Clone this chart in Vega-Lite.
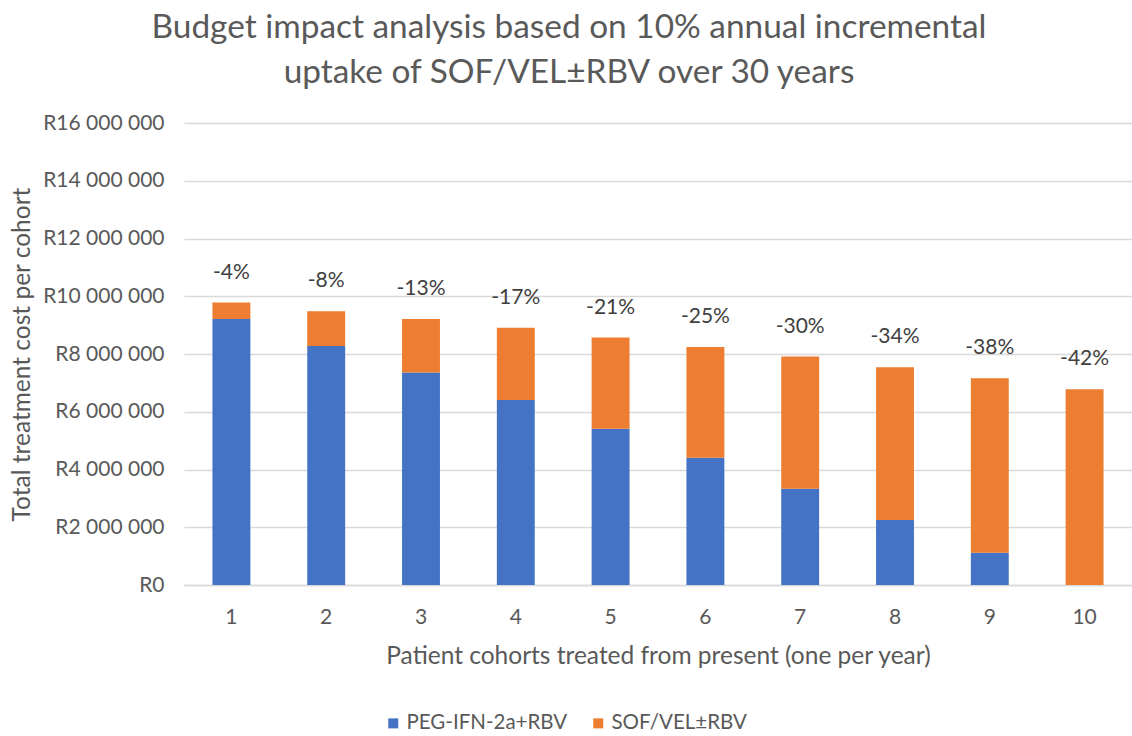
{
  "$schema": "https://vega.github.io/schema/vega-lite/v6.json",
  "width": 948,
  "height": 462,
  "autosize": {"type": "none"},
  "padding": {"left": 184, "top": 123, "right": 0, "bottom": 151},
  "background": "white",
  "config": {
    "view": {"stroke": null},
    "font": "Lato",
    "axis": {"labelFont": "Lato", "titleFont": "Lato"}
  },
  "title": {
    "text": ["Budget impact analysis based on 10% annual incremental", "uptake of SOF/VEL±RBV over 30 years"],
    "font": "Lato",
    "fontSize": 33.4,
    "fontWeight": "normal",
    "color": "#595959",
    "anchor": "middle",
    "frame": "group",
    "dx": -89,
    "lineHeight": 45,
    "offset": 22
  },
  "datasets": {
    "costs": [
      {"cohort": "1", "treatment": "PEG-IFN-2a+RBV", "cost": 9210000, "change": "-4%"},
      {"cohort": "1", "treatment": "SOF/VEL±RBV", "cost": 570000, "change": "-4%"},
      {"cohort": "2", "treatment": "PEG-IFN-2a+RBV", "cost": 8280000, "change": "-8%"},
      {"cohort": "2", "treatment": "SOF/VEL±RBV", "cost": 1200000, "change": "-8%"},
      {"cohort": "3", "treatment": "PEG-IFN-2a+RBV", "cost": 7360000, "change": "-13%"},
      {"cohort": "3", "treatment": "SOF/VEL±RBV", "cost": 1850000, "change": "-13%"},
      {"cohort": "4", "treatment": "PEG-IFN-2a+RBV", "cost": 6410000, "change": "-17%"},
      {"cohort": "4", "treatment": "SOF/VEL±RBV", "cost": 2500000, "change": "-17%"},
      {"cohort": "5", "treatment": "PEG-IFN-2a+RBV", "cost": 5410000, "change": "-21%"},
      {"cohort": "5", "treatment": "SOF/VEL±RBV", "cost": 3160000, "change": "-21%"},
      {"cohort": "6", "treatment": "PEG-IFN-2a+RBV", "cost": 4410000, "change": "-25%"},
      {"cohort": "6", "treatment": "SOF/VEL±RBV", "cost": 3830000, "change": "-25%"},
      {"cohort": "7", "treatment": "PEG-IFN-2a+RBV", "cost": 3330000, "change": "-30%"},
      {"cohort": "7", "treatment": "SOF/VEL±RBV", "cost": 4580000, "change": "-30%"},
      {"cohort": "8", "treatment": "PEG-IFN-2a+RBV", "cost": 2250000, "change": "-34%"},
      {"cohort": "8", "treatment": "SOF/VEL±RBV", "cost": 5290000, "change": "-34%"},
      {"cohort": "9", "treatment": "PEG-IFN-2a+RBV", "cost": 1120000, "change": "-38%"},
      {"cohort": "9", "treatment": "SOF/VEL±RBV", "cost": 6040000, "change": "-38%"},
      {"cohort": "10", "treatment": "PEG-IFN-2a+RBV", "cost": 0, "change": "-42%"},
      {"cohort": "10", "treatment": "SOF/VEL±RBV", "cost": 6780000, "change": "-42%"}
    ]
  },
  "data": {"name": "costs"},
  "encoding": {
    "x": {
      "field": "cohort",
      "type": "ordinal",
      "sort": ["1", "2", "3", "4", "5", "6", "7", "8", "9", "10"],
      "scale": {"paddingInner": 0.6, "paddingOuter": 0.3},
      "axis": {
        "title": "Patient cohorts treated from present (one per year)",
        "titleFontSize": 24.5,
        "titleFontWeight": "normal",
        "titleColor": "#595959",
        "titlePadding": 17,
        "labelAngle": 0,
        "labelFontSize": 21,
        "labelColor": "#595959",
        "labelPadding": 21,
        "ticks": false,
        "domain": true,
        "domainColor": "#d9d9d9",
        "domainWidth": 1.5,
        "grid": false
      }
    }
  },
  "layer": [
    {
      "mark": {"type": "bar"},
      "encoding": {
        "y": {
          "field": "cost",
          "type": "quantitative",
          "aggregate": "sum",
          "stack": "zero",
          "scale": {"domain": [0, 16000000]},
          "axis": {
            "title": "Total treatment cost per cohort",
            "titleFontSize": 24.5,
            "titleFontWeight": "normal",
            "titleColor": "#595959",
            "titleX": -162,
            "titleY": 231,
            "titleAngle": -90,
            "titleAlign": "center",
            "titleBaseline": "middle",
            "values": [0, 2000000, 4000000, 6000000, 8000000, 10000000, 12000000, 14000000, 16000000],
            "labelExpr": "'R' + replace(format(datum.value, ',.0f'), regexp(',', 'g'), ' ')",
            "labelFontSize": 21,
            "labelColor": "#595959",
            "labelPadding": 20,
            "ticks": false,
            "domain": false,
            "gridColor": "#d9d9d9",
            "gridWidth": 1.5
          }
        },
        "color": {
          "field": "treatment",
          "type": "nominal",
          "sort": ["PEG-IFN-2a+RBV", "SOF/VEL±RBV"],
          "scale": {"domain": ["PEG-IFN-2a+RBV", "SOF/VEL±RBV"], "range": ["#4472C4", "#ED7D31"]},
          "legend": {
            "title": null,
            "orient": "none",
            "direction": "horizontal",
            "legendX": 199,
            "legendY": 590,
            "padding": 0,
            "symbolType": "square",
            "symbolSize": 100,
            "symbolStrokeWidth": 0,
            "labelFontSize": 20.5,
            "labelLimit": 400,
            "labelColor": "#595959",
            "labelOffset": 3,
            "columnPadding": 20
          }
        },
        "order": {"field": "treatment", "sort": "ascending"}
      }
    },
    {
      "transform": [
        {"aggregate": [{"op": "sum", "field": "cost", "as": "total"}], "groupby": ["cohort", "change"]}
      ],
      "mark": {"type": "text", "dy": -30, "fontSize": 21, "color": "#404040", "baseline": "middle"},
      "encoding": {
        "y": {"field": "total", "type": "quantitative"},
        "text": {"field": "change"}
      }
    }
  ]
}
